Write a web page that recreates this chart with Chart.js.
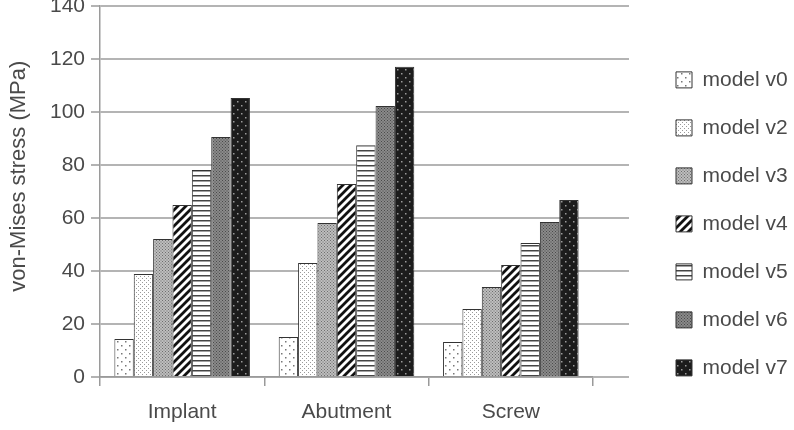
<!DOCTYPE html>
<html>
<head>
<meta charset="utf-8">
<script src="https://cdn.jsdelivr.net/npm/chart.js@4.4.1/dist/chart.umd.min.js"></script>
<style>
  html, body { margin: 0; padding: 0; background: #fff; }
  #wrap { width: 794px; height: 430px; }
</style>
</head>
<body>
<div id="wrap"><canvas id="stressChart"></canvas></div>
<script>
// values (MPa)
const categories = ["Implant", "Abutment", "Screw"];
const seriesNames = ["model v0", "model v2", "model v3", "model v4", "model v5", "model v6", "model v7"];
const modelV0 = [14.3, 15.1, 13.2];
const modelV2 = [38.9, 43.0, 25.7];
const modelV3 = [52.1, 58.1, 34.0];
const modelV4 = [64.9, 72.8, 42.3];
const modelV5 = [78.1, 87.5, 50.6];
const modelV6 = [90.6, 102.3, 58.5];
const modelV7 = [105.3, 117.1, 66.8];
const yTicks = [0, 20, 40, 60, 80, 100, 120, 140];

const textColor = "#4a4a4a";
const axisColor = "#9a9a9a";
const gridColor = "#b4b4b4";
const fontFamily = "'Liberation Sans', Arial, sans-serif";

// small tiles used as bar fills
function makePattern(size, bg, draw) {
  const c = document.createElement("canvas");
  c.width = size;
  c.height = size;
  const g = c.getContext("2d");
  g.fillStyle = bg;
  g.fillRect(0, 0, size, size);
  draw(g, size);
  return g.createPattern(c, "repeat");
}

const fills = [
  makePattern(8, "#ffffff", (g) => {
    g.fillStyle = "#777";
    g.fillRect(1, 1, 1.5, 1.5);
    g.fillRect(5, 5, 1.5, 1.5);
  }),
  makePattern(4, "#ffffff", (g) => {
    g.fillStyle = "#9a9a9a";
    g.fillRect(0, 0, 1, 1);
    g.fillRect(2, 2, 1, 1);
  }),
  makePattern(3, "#bdbdbd", (g) => {
    g.fillStyle = "#6e6e6e";
    g.fillRect(0, 0, 1, 1);
    g.fillRect(1.5, 1.5, 1, 1);
  }),
  makePattern(8, "#ffffff", (g) => {
    g.strokeStyle = "#111";
    g.lineWidth = 2.8;
    g.beginPath();
    g.moveTo(-1, 9); g.lineTo(9, -1);
    g.moveTo(-5, 5); g.lineTo(5, -5);
    g.moveTo(3, 13); g.lineTo(13, 3);
    g.stroke();
  }),
  makePattern(5, "#ffffff", (g) => {
    g.fillStyle = "#444";
    g.fillRect(0, 0, 5, 1.5);
  }),
  makePattern(3, "#8a8a8a", (g) => {
    g.fillStyle = "#4a4a4a";
    g.fillRect(0, 0, 1, 1);
    g.fillRect(1.5, 1.5, 1, 1);
  }),
  makePattern(8, "#1c1c1c", (g) => {
    g.fillStyle = "#9a9a9a";
    g.fillRect(1, 1, 1.5, 1.5);
    g.fillRect(5, 5, 1.5, 1.5);
  })
];

const seriesValues = [modelV0, modelV2, modelV3, modelV4, modelV5, modelV6, modelV7];

const datasets = seriesNames.map((name, i) => ({
  label: name,
  data: seriesValues[i],
  backgroundColor: fills[i],
  borderColor: "#333",
  borderWidth: 1,
  barPercentage: 1.0,
  categoryPercentage: 0.825
}));

// horizontal grid lines run a bit past the end of the category axis
const gridExtend = {
  id: "gridExtend",
  beforeDatasetsDraw(chart) {
    const { ctx, chartArea, scales } = chart;
    const y = scales.y;
    ctx.save();
    ctx.strokeStyle = gridColor;
    ctx.lineWidth = 2;
    y.ticks.forEach((t, i) => {
      const py = Math.round(y.getPixelForTick(i));
      ctx.beginPath();
      ctx.moveTo(chartArea.right, py);
      ctx.lineTo(chartArea.right + 36, py);
      ctx.stroke();
    });
    ctx.restore();
  }
};

const config = {
  type: "bar",
  data: { labels: categories, datasets: datasets },
  plugins: [gridExtend],
  options: {
    responsive: true,
    maintainAspectRatio: false,
    animation: false,
    layout: { padding: 0 },
    plugins: {
      tooltip: { enabled: false },
      legend: {
        position: "right",
        align: "start",
        maxWidth: 145,
        title: { display: true, text: "", padding: { top: 28, bottom: 0 } },
        labels: {
          boxWidth: 16,
          boxHeight: 16,
          padding: 27,
          color: textColor,
          font: { family: fontFamily, size: 21 }
        }
      }
    },
    scales: {
      x: {
        grid: {
          display: true,
          drawOnChartArea: false,
          offset: true,
          tickLength: 9,
          color: axisColor,
          lineWidth: 1.5
        },
        border: { color: axisColor, width: 1.5 },
        ticks: {
          color: textColor,
          padding: 14,
          font: { family: fontFamily, size: 21 }
        },
        afterFit(s) { s.height = 53; }
      },
      y: {
        min: 0,
        max: 140,
        afterBuildTicks(s) { s.ticks = yTicks.map((v) => ({ value: v })); },
        grid: {
          color: gridColor,
          lineWidth: 2,
          tickLength: 9,
          tickColor: axisColor,
          tickWidth: 1.5
        },
        border: { color: axisColor, width: 1.5 },
        ticks: {
          color: textColor,
          padding: 6,
          font: { family: fontFamily, size: 21 }
        },
        title: {
          display: true,
          // leading spaces nudge the rotated title upward like the original
          text: "     von-Mises stress (MPa)",
          color: textColor,
          padding: { top: 6, bottom: 0 },
          font: { family: fontFamily, size: 22 }
        },
        afterFit(s) {
          s.width = 100;
          s.paddingTop = 6;
        }
      },
      // hidden spacer between plot and legend
      yRight: {
        type: "linear",
        position: "right",
        display: false,
        afterFit(s) {
          const lw = s.chart.legend ? s.chart.legend.width : 145;
          s.width = Math.max(0, s.chart.width - lw - 593);
        }
      }
    }
  }
};

const chart = new Chart(document.getElementById("stressChart"), config);
</script>
</body>
</html>
